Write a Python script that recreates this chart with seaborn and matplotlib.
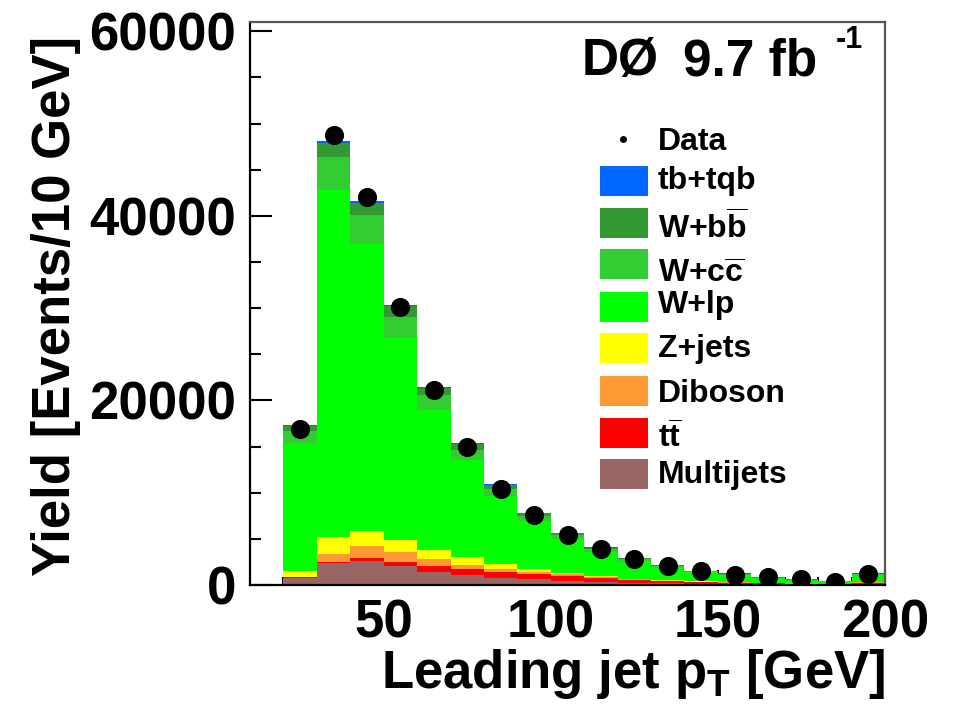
import numpy as np
import pandas as pd
import matplotlib
matplotlib.use("Agg")
import matplotlib.pyplot as plt
import seaborn as sns
from matplotlib.ticker import MultipleLocator, FixedLocator, FuncFormatter
from matplotlib.patches import Rectangle

# ---------------- data ----------------
bin_edges = list(range(20, 201, 10))
bin_centers = [25, 35, 45, 55, 65, 75, 85, 95, 105, 115, 125, 135, 145, 155, 165, 175, 185, 195]

data = [16940, 48720, 42050, 30090, 21080, 14950, 10350, 7570, 5400, 3890,
        2810, 2020, 1480, 1080, 830, 620, 360, 1190]

tb_tqb = [80, 200, 180, 150, 110, 90, 70, 55, 45, 35, 28, 22, 17, 14, 10, 8, 6, 14]
w_bb = [540, 1500, 1320, 1110, 750, 590, 400, 285, 205, 145, 102, 78, 53, 46, 30, 22, 19, 46]
w_cc = [1260, 3630, 3170, 2330, 1620, 1160, 800, 580, 420, 300, 220, 160, 120, 100, 65, 50, 40, 100]
w_lp = [13920, 37590, 31070, 21840, 15210, 10520, 7350, 5170, 3650, 2620,
        1920, 1360, 960, 790, 485, 350, 265, 785]
z_jets = [630, 1800, 1650, 1330, 1000, 830, 570, 360, 180, 140, 80, 60, 40, 35, 30, 25, 20, 40]
diboson = [50, 870, 1300, 1050, 690, 430, 290, 220, 180, 110, 60, 50, 30, 25, 20, 15, 10, 25]
ttbar = [110, 180, 290, 430, 650, 650, 650, 540, 510, 360, 290, 220, 170, 130, 100, 80, 60, 140]
multijets = [720, 2340, 2630, 2090, 1440, 1080, 790, 610, 460, 360, 250, 210, 160, 120, 90, 70, 50, 110]

processes = ["tb+tqb", "W+bb", "W+cc", "W+lp", "Z+jets", "Diboson", "tt", "Multijets"]
legend_labels = ["tb+tqb", r"W+b$\overline{\mathrm{b}}$", r"W+c$\overline{\mathrm{c}}$", "W+lp",
                 "Z+jets", "Diboson", r"t$\overline{\mathrm{t}}$", "Multijets"]
colors = ["#0066ff", "#339933", "#33cc33", "#00ff00", "#ffff00", "#ff9933", "#ff0000", "#996666"]
series = [tb_tqb, w_bb, w_cc, w_lp, z_jets, diboson, ttbar, multijets]

x_ticks = [50, 100, 150, 200]

rows = []
for p, vals in zip(processes, series):
    for c, v in zip(bin_centers, vals):
        rows.append({"pt": c, "yield": v, "process": p})
df = pd.DataFrame(rows)

# ---------------- style ----------------
sns.set_style("white")
plt.rcParams["font.family"] = ["Liberation Sans", "DejaVu Sans"]
plt.rcParams["font.weight"] = "bold"
plt.rcParams["text.color"] = "black"
plt.rcParams["axes.labelcolor"] = "black"
plt.rcParams["xtick.color"] = "black"
plt.rcParams["ytick.color"] = "black"
plt.rcParams["mathtext.fontset"] = "custom"
plt.rcParams["mathtext.rm"] = "Liberation Sans:bold"
plt.rcParams["mathtext.bf"] = "Liberation Sans:bold"
plt.rcParams["mathtext.it"] = "Liberation Sans:bold"

W, H = 959, 714
fig = plt.figure(figsize=(W / 100, H / 100), dpi=100)
L, R, T, B = 250, 885, 22, 585
ax = fig.add_axes([L / W, 1 - B / H, (R - L) / W, (B - T) / H])

sns.histplot(data=df, x="pt", weights="yield", hue="process", hue_order=processes,
             palette=dict(zip(processes, colors)), multiple="stack", bins=bin_edges,
             element="step", linewidth=0, alpha=1, legend=False, ax=ax)

sns.scatterplot(x=bin_centers, y=data, color="black", s=190, linewidth=0, ax=ax, zorder=5)

ax.set_xlim(10, 200)
ax.set_ylim(0, 61000)
ax.set_xlabel("")
ax.set_ylabel("")

ax.xaxis.set_major_locator(FixedLocator(x_ticks))
ax.xaxis.set_minor_locator(MultipleLocator(10))
ax.yaxis.set_major_locator(MultipleLocator(20000))
ax.yaxis.set_minor_locator(MultipleLocator(5000))
ax.yaxis.set_major_formatter(FuncFormatter(lambda v, p: f"{int(v)}"))
ax.xaxis.set_major_formatter(FuncFormatter(lambda v, p: f"{int(v)}"))

ax.tick_params(which="both", direction="in", left=True, bottom=True, top=False, right=False,
               width=1.5, color="black", labelcolor="black", labelsize=38)
ax.tick_params(axis="y", which="major", length=16, pad=10)
ax.tick_params(axis="y", which="minor", length=8)
ax.tick_params(axis="x", which="major", length=11, pad=10)
ax.tick_params(axis="x", which="minor", length=6)
for name, s in ax.spines.items():
    s.set_visible(True)
    s.set_color("black" if name in ("left", "bottom") else "#555555")
    s.set_linewidth(1.6)
    s.set_zorder(6)

# axis titles
fig.text(70 / W, 1 - 36 / H, "Yield [Events/10 GeV]", rotation=90, rotation_mode="anchor",
         ha="right", va="baseline", fontsize=38, fontweight="bold")
fig.text(885 / W, 1 - 688 / H, r"Leading jet p$_{\mathrm{T}}$ [GeV]", ha="right", va="baseline",
         fontsize=38, fontweight="bold")

# experiment label
fig.text(582 / W, 1 - 75 / H, "DØ", ha="left", va="baseline", fontsize=37, fontweight="bold")
fig.text(683 / W, 1 - 75 / H, "9.7 fb", ha="left", va="baseline", fontsize=37, fontweight="bold")
fig.text(836 / W, 1 - 48 / H, "-1", ha="left", va="baseline", fontsize=22, fontweight="bold")

# legend (manual, ROOT style)
def to_fig(x, y):
    return x / W, 1 - y / H

fig.add_artist(plt.Line2D([623 / W], [1 - 139 / H], marker="o", ms=4, color="black", lw=0))
fig.text(*to_fig(658, 150.5), "Data", ha="left", va="baseline", fontsize=23, fontweight="bold")
box_centers = [181, 222.7, 264.3, 306.7, 348.3, 390.5, 432.7, 474.3]
baselines = [189, 239, 283, 313, 357, 402.5, 448, 482.5]
for lab, col, yc, yb in zip(legend_labels, colors, box_centers, baselines):
    x0, y0 = to_fig(600, yc + 15)
    fig.add_artist(Rectangle((x0, y0), 48 / W, 30 / H, transform=fig.transFigure,
                             facecolor=col, edgecolor="none"))
    fig.text(*to_fig(658, yb), lab, ha="left", va="baseline", fontsize=23, fontweight="bold")

fig.savefig("out.png", dpi=100)
